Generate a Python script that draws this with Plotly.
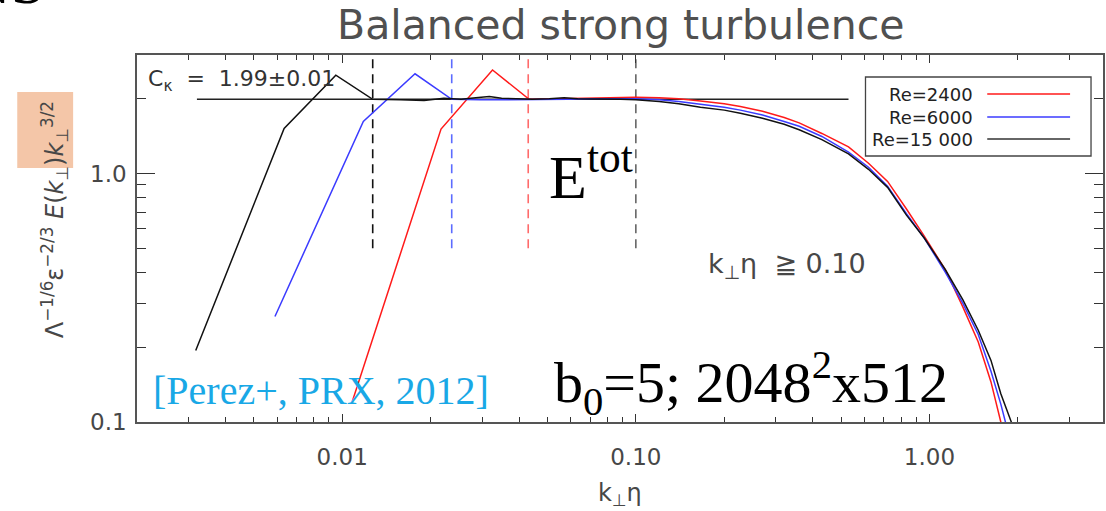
import plotly.graph_objects as go

# ---- data -------------------------------------------------------------
# compensated spectra  Λ^-1/6 ε^-2/3 E(k⊥) k⊥^3/2  vs  k⊥η
k_re2400 = [0.0108, 0.0217, 0.0325, 0.0433, 0.0542, 0.065, 0.0758, 0.0867, 0.1, 0.12,
            0.14, 0.166, 0.2, 0.227, 0.27, 0.32, 0.36, 0.43, 0.53, 0.62, 0.72, 0.835,
            0.96, 1.133, 1.3, 1.466, 1.62, 1.75, 1.85]
e_re2400 = [0.12, 1.51, 2.61, 1.99, 2.0, 2.01, 2.02, 2.03, 2.03, 2.02,
            2.0, 1.96, 1.91, 1.86, 1.78, 1.68, 1.6, 1.45, 1.28, 1.1, 0.93, 0.72,
            0.56, 0.41, 0.29, 0.21, 0.145, 0.1, 0.075]

k_re6000 = [0.0059, 0.0118, 0.0177, 0.0236, 0.0295, 0.0354, 0.0413, 0.0472, 0.0531, 0.059,
            0.0708, 0.0826, 0.1, 0.12, 0.14, 0.166, 0.2, 0.227, 0.27, 0.32, 0.36, 0.43,
            0.53, 0.62, 0.72, 0.835, 0.96, 1.133, 1.3, 1.466, 1.62, 1.75, 1.81, 1.95]
e_re6000 = [0.266, 1.62, 2.52, 1.99, 1.98, 1.98, 1.98, 1.99, 1.99, 1.99,
            2.0, 2.0, 2.0, 1.98, 1.95, 1.9, 1.85, 1.8, 1.72, 1.62, 1.55, 1.41,
            1.22, 1.06, 0.89, 0.69, 0.55, 0.40, 0.3, 0.225, 0.16, 0.118, 0.1, 0.072]

k_re15000 = [0.00317, 0.00634, 0.00951, 0.0127, 0.0158, 0.019, 0.0222, 0.0254, 0.0285, 0.0317,
             0.0349, 0.038, 0.0444, 0.0507, 0.057, 0.0634, 0.0761, 0.0888, 0.1, 0.12,
             0.14, 0.166, 0.2, 0.227, 0.27, 0.32, 0.36, 0.43, 0.53, 0.62, 0.72, 0.835,
             0.96, 1.133, 1.3, 1.466, 1.62, 1.75, 1.9, 2.05]
e_re15000 = [0.194, 1.52, 2.49, 1.99, 1.98, 1.97, 2.01, 1.99, 2.02, 2.04,
             2.01, 2.0, 1.99, 2.0, 2.02, 2.0, 2.0, 1.99, 1.98, 1.95,
             1.91, 1.85, 1.8, 1.75, 1.67, 1.58, 1.5, 1.37, 1.2, 1.04, 0.88, 0.68,
             0.55, 0.41, 0.31, 0.234, 0.177, 0.13, 0.1, 0.078]

series_names = ["Re=2400", "Re=6000", "Re=15 000"]
series_colors = ["#ff1a1a", "#3b3bff", "#111111"]

# Kolmogorov constant level
c_k = 1.99
c_k_range = [0.0032, 0.53]

# dissipation-range markers
cut_k = [0.0127, 0.0236, 0.043, 0.10]
cut_colors = ["#111111", "#5c6cff", "#ff6b6b", "#666666"]
cut_span = [0.5, 3.0]

x_ticks = [0.01, 0.1, 1.0]
x_ticktext = ["0.01", "0.10", "1.00"]
y_ticks = [0.1, 1.0]
y_ticktext = ["0.1", "1.0"]

# ---- figure geometry (pixels) ----------------------------------------
FW, FH = 1106, 511
L, R, T, B = 137, 1105, 55, 422
PW, PH = R - L, B - T


def px(x):
    return (x - L) / PW


def py(y):
    return (B - y) / PH


SANS = "DejaVu Sans"
SERIF = "Liberation Serif"
GREY = "#474747"

fig = go.Figure()

fig.add_trace(go.Scatter(x=c_k_range, y=[c_k, c_k], mode="lines",
                         line=dict(color="#222222", width=1.4), showlegend=False))

for k, col in zip(cut_k, cut_colors):
    fig.add_trace(go.Scatter(x=[k, k], y=cut_span, mode="lines",
                             line=dict(color=col, width=1.6, dash="9px,6px"),
                             showlegend=False))

for kk, ee, name, col in [(k_re2400, e_re2400, series_names[0], series_colors[0]),
                          (k_re6000, e_re6000, series_names[1], series_colors[1]),
                          (k_re15000, e_re15000, series_names[2], series_colors[2])]:
    fig.add_trace(go.Scatter(x=kk, y=ee, mode="lines", name=name,
                             line=dict(color=col, width=1.5), showlegend=False))


def minor_vals(decades):
    out = []
    for d in decades:
        for m in range(2, 10):
            out.append(m * d)
    return out


axis_common = dict(
    type="log", showgrid=False, zeroline=False, showline=True,
    linecolor="#555555", linewidth=1.5, mirror="allticks",
    ticks="inside", tickcolor="#333333", tickwidth=1.4,
    tickfont=dict(family=SANS, size=23, color=GREY),
)

fig.update_layout(
    width=FW, height=FH, autosize=False,
    margin=dict(l=L, r=FW - R, t=T, b=FH - B),
    paper_bgcolor="white", plot_bgcolor="white",
    showlegend=False,
    xaxis=dict(axis_common, range=[-2.69897, 0.59106],
               tickvals=x_ticks, ticktext=x_ticktext, ticklen=8,
               ticklabelstandoff=14,
               minor=dict(ticks="inside", ticklen=5, tickcolor="#333333", tickwidth=1.3,
                          tickvals=minor_vals([0.001, 0.01, 0.1, 1.0]))),
    yaxis=dict(axis_common, range=[-1.0, 0.47712],
               tickvals=y_ticks, ticktext=y_ticktext, ticklen=18,
               ticklabelstandoff=4,
               minor=dict(ticks="inside", ticklen=9, tickcolor="#333333", tickwidth=1.3,
                          tickvals=minor_vals([0.1, 1.0]))),
)

shapes = []
# highlight behind the k⊥^3/2 factor of the y label
shapes.append(dict(type="rect", xref="paper", yref="paper",
                   x0=px(17), x1=px(73), y0=py(168), y1=py(92),
                   fillcolor="#f4c6a8", line=dict(width=0), layer="below"))
# legend frame and samples
shapes.append(dict(type="rect", xref="paper", yref="paper",
                   x0=px(867), x1=px(1093), y0=py(156), y1=py(77),
                   line=dict(color="#444444", width=1.3), fillcolor="white"))
leg_rows = [94, 117, 139]
for yy, col in zip(leg_rows, series_colors):
    shapes.append(dict(type="line", xref="paper", yref="paper",
                       x0=px(989), x1=px(1072), y0=py(yy), y1=py(yy),
                       line=dict(color=col if col != "#111111" else "#333333", width=1.6)))

ann = []
for yy, name in zip(leg_rows, series_names):
    ann.append(dict(text=name, x=px(977), y=py(yy), xanchor="right", yanchor="middle",
                    font=dict(family=SANS, size=18, color="#222222")))

ann += [
    dict(text="Balanced strong turbulence", x=px(621), y=py(25),
         xanchor="center", yanchor="middle",
         font=dict(family=SANS, size=41, color="#505050")),
    dict(text="NS", x=px(47), y=py(-18), xanchor="right", yanchor="middle",
         font=dict(family=SERIF, size=62, color="#000000")),
    dict(text="C<sub>κ</sub>&nbsp;&nbsp;=&nbsp;&nbsp;1.99±0.01", x=px(146), y=py(80),
         xanchor="left", yanchor="middle",
         font=dict(family=SANS, size=22, color="#333333")),
    dict(text="E<sup>tot</sup>", x=px(592), y=py(172), xanchor="center", yanchor="middle",
         font=dict(family=SERIF, size=62, color="#000000")),
    dict(text="k<sub>⊥</sub>η&nbsp;&nbsp;≧&nbsp;0.10", x=px(788), y=py(265), xanchor="center",
         yanchor="middle", font=dict(family=SANS, size=27, color=GREY)),
    dict(text="[Perez+, PRX, 2012]", x=px(321), y=py(390), xanchor="center",
         yanchor="middle", font=dict(family=SERIF, size=40, color="#19a8e6")),
    dict(text="b<sub>0</sub>=5; 2048<sup>2</sup>x512", x=px(752), y=py(383),
         xanchor="center", yanchor="middle",
         font=dict(family=SERIF, size=58, color="#000000")),
    dict(text="k<sub>⊥</sub>η", x=px(621), y=py(494), xanchor="center", yanchor="middle",
         font=dict(family=SANS, size=24, color=GREY)),
    dict(text="Λ<sup>−1/6</sup>ε<sup>−2/3</sup> <i>E</i>(<i>k</i><sub>⊥</sub>)"
              "<i>k</i><sub>⊥</sub><sup>3/2</sup>",
         x=px(54), y=py(220), xanchor="center", yanchor="middle", textangle=-90,
         font=dict(family=SANS, size=24, color=GREY)),
]
for a in ann:
    a.setdefault("xref", "paper")
    a.setdefault("yref", "paper")
    a.setdefault("showarrow", False)

fig.update_layout(shapes=shapes, annotations=ann)

fig.write_html("out.html")
